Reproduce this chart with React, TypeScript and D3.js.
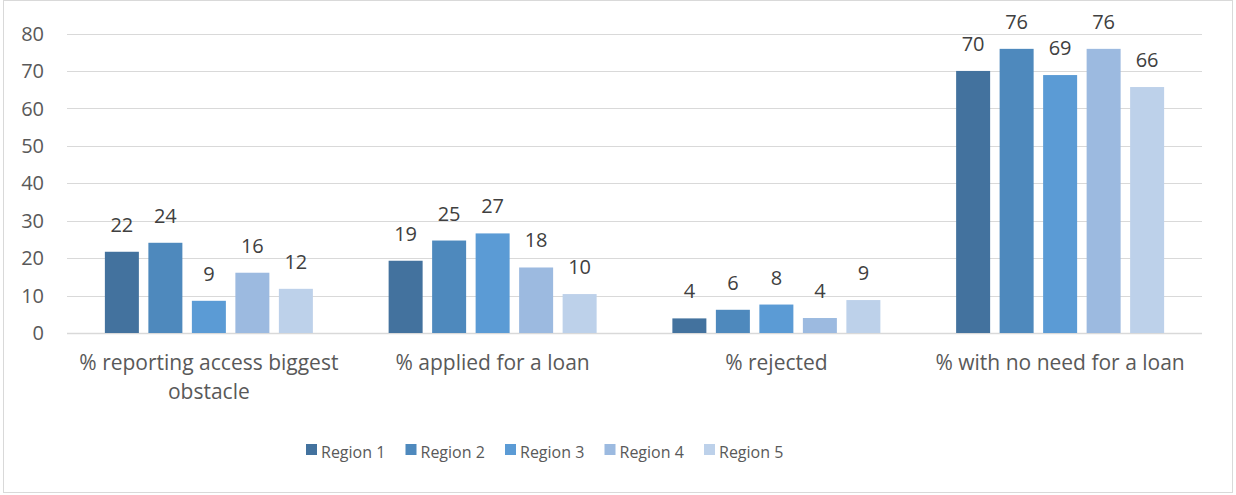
import React, { useEffect, useRef } from "react";
import * as d3 from "d3";

const categories = [
  "% reporting access biggest obstacle",
  "% applied for a loan",
  "% rejected",
  "% with no need for a loan",
];
const seriesNames = ["Region 1", "Region 2", "Region 3", "Region 4", "Region 5"];
const region1 = [21.7, 19.3, 3.9, 70.0];
const region2 = [24.1, 24.7, 6.2, 75.9];
const region3 = [8.6, 26.6, 7.6, 68.9];
const region4 = [16.1, 17.5, 4.0, 75.9];
const region5 = [11.8, 10.4, 8.8, 65.7];
const yTicks = [0, 10, 20, 30, 40, 50, 60, 70, 80];
const colors = ["#43729e", "#4e89bd", "#5b9bd5", "#9cbae0", "#bdd1ea"];

const FONT = "'Open Sans', sans-serif";

export default function App() {
  const ref = useRef<SVGSVGElement | null>(null);
  useEffect(() => {
    const svg = d3.select(ref.current);
    svg.selectAll("*").remove();
    const left = 67, right = 1202, top = 33.5, bottom = 333;
    const series = [region1, region2, region3, region4, region5];

    svg.append("rect").attr("x", 3.5).attr("y", 0.5).attr("width", 1229).attr("height", 492)
      .attr("fill", "#fff").attr("stroke", "#d9d9d9");

    const x = d3.scaleBand<string>().domain(categories).range([left, right]).paddingInner(0).paddingOuter(0);
    const y = d3.scaleLinear().domain([0, 80]).range([bottom, top]);

    svg.append("g").selectAll("line").data(yTicks).join("line")
      .attr("x1", left).attr("x2", right)
      .attr("y1", (d) => Math.round(y(d)) + 0.5).attr("y2", (d) => Math.round(y(d)) + 0.5)
      .attr("stroke", "#d9d9d9").attr("stroke-width", (d) => (d === 0 ? 1.5 : 1));

    svg.append("g").selectAll("text").data(yTicks).join("text")
      .attr("x", 44).attr("y", (d) => y(d)).attr("dy", "0.36em")
      .attr("text-anchor", "end").attr("fill", "#595959")
      .style("font-family", FONT).style("font-size", "20px")
      .text((d) => String(d));

    const barW = 34, step = 43.5;
    const inner = d3.scaleBand<number>().domain(d3.range(5)).range([0, step * 5]);

    categories.forEach((c, ci) => {
      const cx = x(c)! + x.bandwidth() / 2;
      const g0 = cx - (step * 4 + barW) / 2;
      series.forEach((s, si) => {
        const bx = g0 + inner(si)!;
        const v = s[ci];
        svg.append("rect").attr("x", bx).attr("y", y(v)).attr("width", barW)
          .attr("height", y(0) - y(v)).attr("fill", colors[si]);
        svg.append("text").attr("x", bx + barW / 2).attr("y", y(v) - 20)
          .attr("text-anchor", "middle").attr("fill", "#404040")
          .style("font-family", FONT).style("font-size", "20px")
          .text(String(Math.round(v)));
      });
      const words = c.split(" ");
      const maxW = x.bandwidth() - 10;
      const t = svg.append("text").attr("text-anchor", "middle").attr("fill", "#595959")
        .style("font-family", FONT).style("font-size", "21px");
      let line: string[] = [];
      let lineNo = 0;
      let ts = t.append("tspan").attr("x", cx).attr("y", 370);
      for (const w of words) {
        line.push(w);
        ts.text(line.join(" "));
        if ((ts.node() as SVGTSpanElement).getComputedTextLength() > maxW && line.length > 1) {
          line.pop();
          ts.text(line.join(" "));
          line = [w];
          lineNo++;
          ts = t.append("tspan").attr("x", cx).attr("y", 370 + lineNo * 28.5).text(w);
        }
      }
    });

    const lx = d3.scaleLinear().domain([0, 4]).range([306, 704]);
    seriesNames.forEach((n, i) => {
      svg.append("rect").attr("x", lx(i)).attr("y", 444).attr("width", 11).attr("height", 11).attr("fill", colors[i]);
      svg.append("text").attr("x", lx(i) + 15).attr("y", 452).attr("dy", "0.36em")
        .attr("fill", "#595959").style("font-family", FONT).style("font-size", "16px").text(n);
    });
  }, []);
  return (
    <svg ref={ref} width={1236} height={495} style={{ position: "absolute", left: 0, top: 0 }} />
  );
}
